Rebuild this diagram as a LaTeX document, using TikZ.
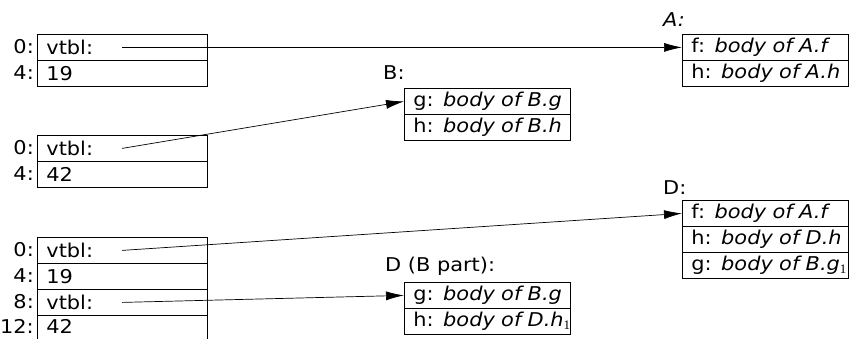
\documentclass[tikz,border=0pt]{standalone}
\usepackage{fontspec}
\setmainfont{DejaVu Sans}[FakeStretch=1.1]
\newfontfamily\subfont{Liberation Serif}
\usetikzlibrary{arrows.meta}
\newcommand{\subone}{{\subfont\fontsize{13}{13}\selectfont\raisebox{-3pt}{1}}}
\begin{document}
\begin{tikzpicture}[x=1pt,y=-1pt,
  txt/.style={font=\fontsize{19}{19}\selectfont},
  cell/.style={txt, draw=black, line width=0.8pt, anchor=north west, minimum height=26pt,
    inner ysep=0pt, inner xsep=9pt, align=left},
  lcell/.style={cell, text width=152pt},
  rcell/.style={cell, text width=148pt},
  off/.style={txt, anchor=east, inner sep=0pt},
  lbl/.style={txt, anchor=west, inner sep=0pt},
  edge/.style={line width=0.8pt},
  ptr/.style={line width=0.7pt, -{Latex[length=18pt,width=9pt]}}
]
\useasboundingbox (0,0) rectangle (850,338);

% object 1
\node[lcell] (a0) at (37,34) {vtbl:};
\node[lcell] (a1) at (37,60) {19};
\node[off] (oa0) at (34,47) {0:};
\node[off] (oa1) at (34,73) {4:};

% object 2
\node[lcell] (b0) at (37,135) {vtbl:};
\node[lcell] (b1) at (37,161) {42};
\node[off] (ob0) at (34,148) {0:};
\node[off] (ob1) at (34,174) {4:};

% object 3 (cut off at the bottom)
\node[lcell] (c0) at (37,237) {vtbl:};
\node[lcell] (c1) at (37,263) {19};
\node[lcell] (c2) at (37,289) {vtbl:};
\node[lcell, draw=none, minimum height=23pt] (c3) at (37,315) {42};
\draw[edge] (c3.south west) -- (c3.north west);
\draw[edge] (c3.south east) -- (c3.north east);
\node[off] (oc0) at (34,250) {0:};
\node[off] (oc1) at (34,276) {4:};
\node[off] (oc2) at (34,302) {8:};
\node[off] (oc3) at (34,326.5) {12:};

% vtable A
\node[lbl] (Al) at (663,20) {\itshape A:};
\node[rcell] (A0) at (682,34) {\mbox{f: {\itshape body of A.f}}};
\node[rcell] (A1) at (682,60) {\mbox{h: {\itshape body of A.h}}};

% vtable B
\node[lbl] (Bl) at (383,73) {B:};
\node[rcell] (B0) at (404,88) {\mbox{g: {\itshape body of B.g}}};
\node[rcell] (B1) at (404,114) {\mbox{h: {\itshape body of B.h}}};

% vtable D
\node[lbl] (Dl) at (663,188) {D:};
\node[rcell] (D0) at (682,200) {\mbox{f: {\itshape body of A.f}}};
\node[rcell] (D1) at (682,226) {\mbox{h: {\itshape body of D.h}}};
\node[rcell] (D2) at (682,252) {\mbox{g: {\itshape body of B.g}\subone}};

% vtable D (B part)
\node[lbl] (El) at (385,266) {D (B part):};
\node[rcell] (E0) at (404,282) {\mbox{g: {\itshape body of B.g}}};
\node[rcell] (E1) at (404,308) {\mbox{h: {\itshape body of D.h}\subone}};

% pointers
\coordinate (pa) at ([xshift=85pt]a0.west);
\coordinate (pb) at ([xshift=85pt]b0.west);
\coordinate (pc) at ([xshift=85pt]c0.west);
\coordinate (pd) at ([xshift=85pt]c2.west);
\draw[ptr] (pa) -- (A0.west);
\draw[ptr] (pb) -- (B0.west);
\draw[ptr] (pc) -- (D0.west);
\draw[ptr] (pd) -- (E0.west);
\end{tikzpicture}
\end{document}
